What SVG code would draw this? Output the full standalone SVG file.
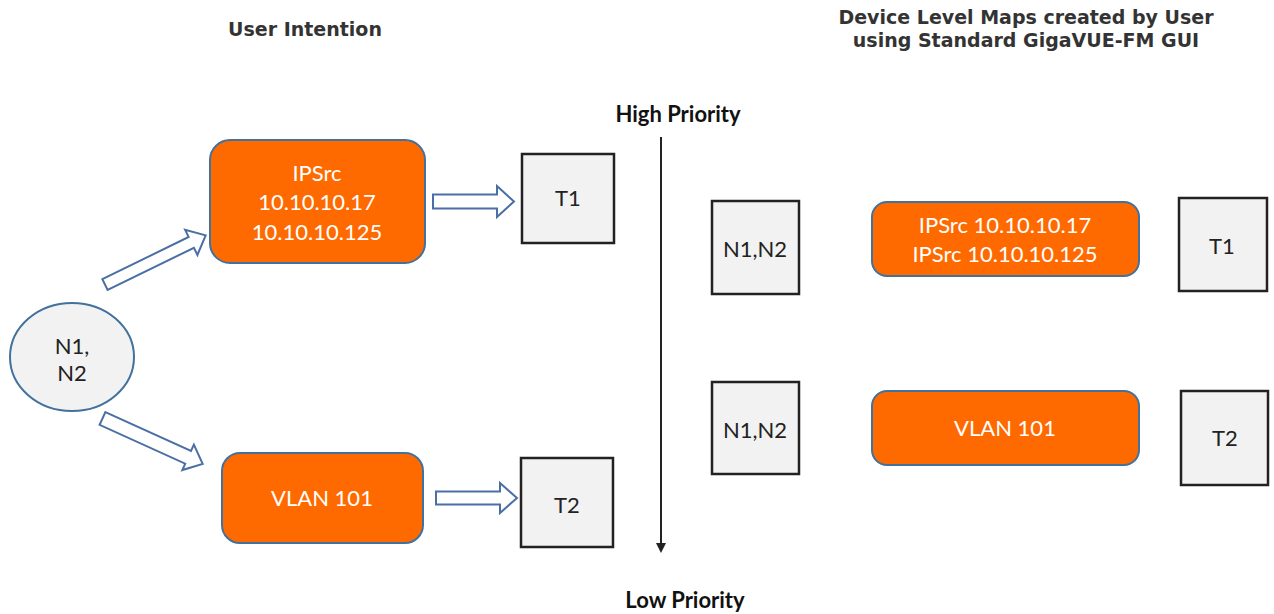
<svg xmlns="http://www.w3.org/2000/svg" width="1274" height="614" viewBox="0 0 1274 614">
<style>
.hdr{font-family:"DejaVu Sans",Verdana,sans-serif;font-weight:bold;font-size:19px;fill:#333;text-anchor:middle}
.pri{font-family:Lato,"Liberation Sans",sans-serif;font-weight:bold;font-size:22px;fill:#111;text-anchor:middle}
.org{fill:#ff6a00;stroke:#41719c;stroke-width:2}
.gry{fill:#f2f2f2;stroke:#222;stroke-width:2.5}
.wt{font-family:Lato,"Liberation Sans",sans-serif;font-size:22px;fill:#fff;text-anchor:middle}
.bt{font-family:Lato,"Liberation Sans",sans-serif;font-size:22px;fill:#222;text-anchor:middle}
.arr{fill:#fff;stroke:#4a6fa5;stroke-width:2;stroke-linejoin:miter}
</style>
<defs>
<marker id="ah" markerWidth="10" markerHeight="10" refX="5" refY="5" orient="auto" markerUnits="userSpaceOnUse">
<path d="M0,0 L10,5 L0,10 z" fill="#222"/>
</marker>
</defs>
<rect width="1274" height="614" fill="#fff"/>
<text class="hdr" x="305" y="36">User Intention</text>
<text class="hdr" x="1026" y="24">Device Level Maps created by User</text>
<text class="hdr" x="1026" y="47">using Standard GigaVUE-FM GUI</text>
<text class="pri" x="678" y="122">High Priority</text>
<text class="pri" x="685" y="608">Low Priority</text>

<g id="connectors">
<polygon class="arr" transform="translate(105,284.5) rotate(-26)" points="0,-6 96,-6 96,-14 112,0 96,14 96,6 0,6"/>
<polygon class="arr" transform="translate(102.5,418.5) rotate(24.4)" points="0,-7 94,-7 94,-14 110,0 94,14 94,7 0,7"/>
<polygon class="arr" points="433,194.5 497,194.5 497,186 514,201.5 497,217 497,208.5 433,208.5"/>
<polygon class="arr" points="436,491.5 500,491.5 500,483 517,498 500,513 500,504.5 436,504.5"/>
<line x1="661" y1="137" x2="661" y2="548" stroke="#222" stroke-width="2" marker-end="url(#ah)"/>
</g>

<g id="n-src">
<ellipse cx="72" cy="357" rx="62" ry="54" fill="#f2f2f2" stroke="#41719c" stroke-width="2"/>
<text class="bt" x="72" y="354">N1,</text>
<text class="bt" x="72" y="381">N2</text>
</g>
<g id="ipsrc-left">
<rect class="org" x="210" y="140" width="215" height="123" rx="20"/>
<text class="wt" x="317" y="181">IPSrc</text>
<text class="wt" x="317" y="210">10.10.10.17</text>
<text class="wt" x="317" y="240">10.10.10.125</text>
</g>
<g id="vlan-left">
<rect class="org" x="222" y="453" width="201" height="90" rx="18"/>
<text class="wt" x="322" y="506">VLAN 101</text>
</g>
<g id="t1-left">
<rect class="gry" x="522" y="154" width="92" height="89"/>
<text class="bt" x="568" y="206">T1</text>
</g>
<g id="t2-left">
<rect class="gry" x="521" y="458" width="92" height="89"/>
<text class="bt" x="567" y="513">T2</text>
</g>
<g id="n-right-1">
<rect class="gry" x="712" y="201" width="87" height="93"/>
<text class="bt" x="755" y="257">N1,N2</text>
</g>
<g id="n-right-2">
<rect class="gry" x="712" y="382" width="87" height="92"/>
<text class="bt" x="755" y="438">N1,N2</text>
</g>
<g id="ipsrc-right">
<rect class="org" x="872" y="202" width="267" height="74" rx="15"/>
<text class="wt" x="1005" y="233">IPSrc 10.10.10.17</text>
<text class="wt" x="1005" y="262">IPSrc 10.10.10.125</text>
</g>
<g id="vlan-right">
<rect class="org" x="872" y="391" width="267" height="74" rx="15"/>
<text class="wt" x="1005" y="436">VLAN 101</text>
</g>
<g id="t1-right">
<rect class="gry" x="1179" y="198" width="88" height="93"/>
<text class="bt" x="1222" y="254">T1</text>
</g>
<g id="t2-right">
<rect class="gry" x="1181" y="391" width="87" height="94"/>
<text class="bt" x="1225" y="446">T2</text>
</g>
</svg>
